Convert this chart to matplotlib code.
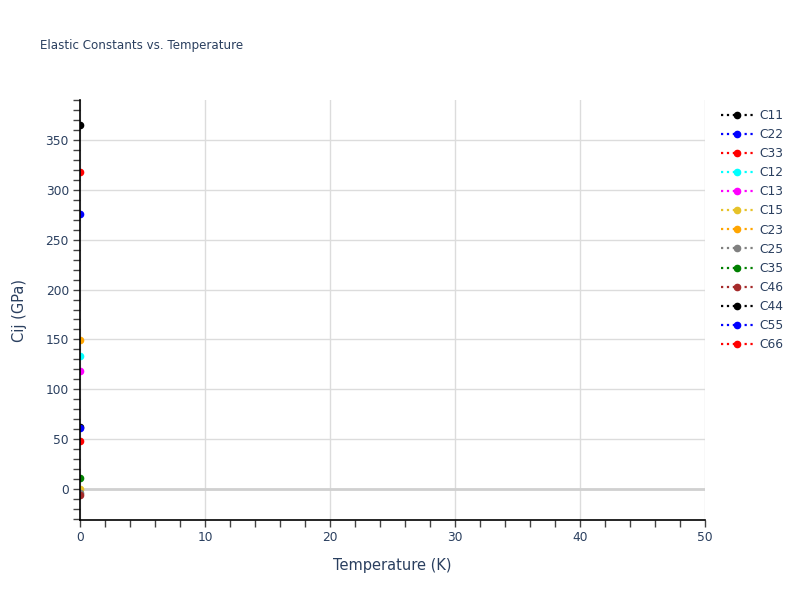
import numpy as np
import matplotlib.pyplot as plt
from matplotlib.ticker import MultipleLocator

plt.rcParams['font.family'] = ['DejaVu Sans']

# Elastic constants at T = 0 K (GPa)
labels = ['C11', 'C22', 'C33', 'C12', 'C13', 'C15', 'C23',
          'C25', 'C35', 'C46', 'C44', 'C55', 'C66']
temperature = [0.0]
values = [365.0, 275.5, 318.0, 133.0, 118.0, 0.5, 149.5,
          -4.0, 10.7, -6.0, 62.0, 61.5, 48.0]
colors = ['black', 'blue', 'red', 'cyan', 'magenta', '#e6c229', 'orange',
          'grey', 'green', 'brown', 'black', 'blue', 'red']

text_col = '#2a3f5f'

fig = plt.figure(figsize=(8, 6), dpi=100, facecolor='white')
ax = fig.add_axes([80 / 800, 1 - 520 / 600, 625 / 800, 420 / 600])

for lab, v, c in zip(labels, values, colors):
    ax.plot(temperature, [v], linestyle=':', color=c, marker='o',
            markersize=4.5, linewidth=1.6, label=lab, zorder=3)

ax.set_xlim(0, 50)
ax.set_ylim(-31, 390)
ax.xaxis.set_major_locator(MultipleLocator(10))
ax.xaxis.set_minor_locator(MultipleLocator(2))
ax.yaxis.set_major_locator(MultipleLocator(50))
ax.yaxis.set_minor_locator(MultipleLocator(10))
ax.set_yticks(np.arange(0, 351, 50))

ax.grid(True, which='major', color='#dcdcdc', linewidth=1)
ax.set_axisbelow(True)
ax.axhline(0, color='#d0d0d0', linewidth=2, zorder=1)

for s in ['top', 'right']:
    ax.spines[s].set_visible(False)
for s in ['left', 'bottom']:
    ax.spines[s].set_color('black')
    ax.spines[s].set_linewidth(1.2)
    ax.spines[s].set_zorder(5)

ax.tick_params(which='both', direction='out', length=5, width=1,
               color='#444444', labelcolor=text_col, labelsize=8.8, pad=3)

ax.set_xlabel('Temperature (K)', color=text_col, fontsize=10.5, labelpad=10)
ax.set_ylabel('Cij (GPa)', color=text_col, fontsize=10.5, labelpad=13)

fig.text(40 / 800, 1 - 45 / 600, 'Elastic Constants vs. Temperature',
         color=text_col, fontsize=8.6, va='center', ha='left')

leg = fig.legend(loc='upper left', bbox_to_anchor=(716 / 800, 1 - 104 / 600),
                 frameon=False, fontsize=8.8, labelspacing=0.5,
                 handlelength=2.6, handletextpad=0.55, borderaxespad=0)
for t in leg.get_texts():
    t.set_color(text_col)

fig.savefig('out.png', dpi=100)
